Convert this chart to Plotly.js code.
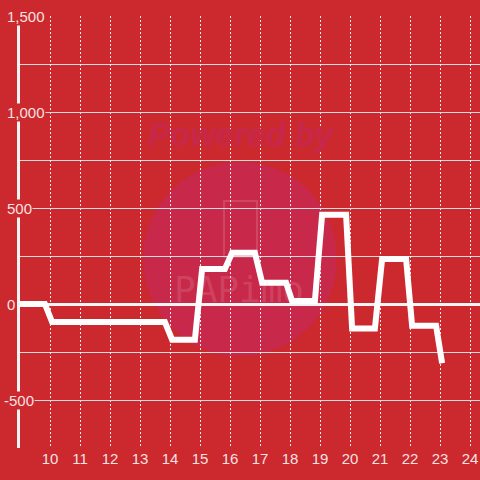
<!DOCTYPE html>
<html>
<head>
<meta charset="utf-8">
<script src="https://cdn.plot.ly/plotly-3.0.1.min.js"></script>
<style>
html,body{margin:0;padding:0;background:#cc292e;}
#chart{width:480px;height:480px;}
</style>
</head>
<body>
<div id="chart"></div>
<script>
// Time of day (hours) and cumulative value
var hours = [9, 9.83, 10.07, 13.83, 14.07, 14.83, 15.07, 15.83, 16.07, 16.83, 17.07, 17.87, 18.07, 18.83, 19.07, 19.87, 20.07, 20.83, 21.07, 21.87, 22.07, 22.87, 23.07];
var values = [0, 0, -94, -94, -186, -186, 182, 182, 267, 267, 111, 111, 16, 16, 465, 465, -127, -127, 234, 234, -113, -113, -309];
var xTickVals = [10, 11, 12, 13, 14, 15, 16, 17, 18, 19, 20, 21, 22, 23, 24];
var yTickVals = [1500, 1000, 500, 0, -500];
var yTickText = ['1,500', '1,000', '500', '0', '-500'];

var BG = '#cc292e';
var TXT = 'rgba(255,255,255,0.88)';
var FONT = 'Liberation Sans, Arial, sans-serif';

var W = 480, L = 20, R = 0, T = 16, B = 32, H = 480;
var pw = W - L - R, ph = H - T - B;
function px2paperX(px){ return (px - L) / pw; }
function px2paperY(py){ return (H - B - py) / ph; }

var annotations = yTickVals.map(function(v, i){
  return {
    xref: 'paper', yref: 'y', x: px2paperX(v < 0 ? 3 : 6), y: v,
    xanchor: 'left', yanchor: 'middle', showarrow: false,
    text: yTickText[i], bgcolor: BG, borderpad: 0,
    font: {family: FONT, size: 15, color: TXT}
  };
});
annotations.push({
  xref: 'paper', yref: 'paper', x: px2paperX(241), y: px2paperY(134),
  xanchor: 'center', yanchor: 'middle', showarrow: false,
  text: 'Powered by',
  font: {family: FONT, size: 33, color: '#c7284a', weight: 'bold', style: 'italic'}
});
annotations.push({
  xref: 'paper', yref: 'paper', x: px2paperX(239), y: px2paperY(289),
  xanchor: 'center', yanchor: 'middle', showarrow: false,
  text: 'PAPimo',
  font: {family: 'DejaVu Sans Mono, monospace', size: 36, color: 'rgba(255,255,255,0.14)'}
});

var layout = {
  width: 480, height: 480,
  margin: {l: L, r: R, t: T, b: B, pad: 0},
  paper_bgcolor: BG, plot_bgcolor: BG,
  showlegend: false,
  xaxis: {
    range: [9, 9 + pw / 30],
    tickvals: xTickVals,
    showgrid: true, gridcolor: 'rgba(255,255,255,0.9)', gridwidth: 1, griddash: '2px,2px',
    zeroline: false, showline: false, ticks: '',
    tickfont: {family: FONT, size: 15, color: TXT}
  },
  yaxis: {
    range: [-750, 1500],
    tickvals: yTickVals,
    showticklabels: false,
    showgrid: true, gridcolor: '#dcdcdc', gridwidth: 1,
    minor: {dtick: 250, showgrid: true, gridcolor: '#dcdcdc', gridwidth: 1, ticks: ''},
    zeroline: true, zerolinecolor: '#f4f4f4', zerolinewidth: 3,
    showline: true, linecolor: '#f4f4f4', linewidth: 3, ticks: ''
  },
  shapes: [
    {type: 'circle', xref: 'paper', yref: 'paper', layer: 'below',
     x0: px2paperX(143), x1: px2paperX(337), y0: px2paperY(356), y1: px2paperY(162),
     fillcolor: '#c8284a', line: {width: 0}},
    {type: 'rect', xref: 'paper', yref: 'paper', layer: 'below',
     x0: px2paperX(224), x1: px2paperX(257), y0: px2paperY(257), y1: px2paperY(201),
     fillcolor: 'rgba(0,0,0,0)', line: {width: 2, color: 'rgba(255,255,255,0.14)'}}
  ],
  annotations: annotations
};

var trace = {
  type: 'scatter', mode: 'lines',
  x: hours, y: values,
  line: {color: '#ffffff', width: 6},
  hoverinfo: 'skip'
};

Plotly.newPlot('chart', [trace], layout, {staticPlot: true, displayModeBar: false});
</script>
</body>
</html>
